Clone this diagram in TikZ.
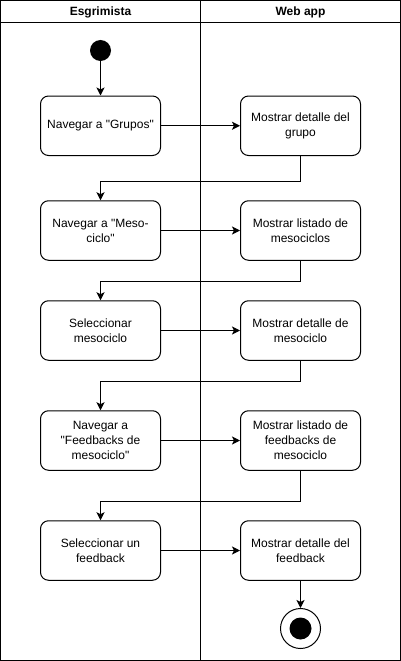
\documentclass[tikz,border=0pt]{standalone}
\usepackage{fontspec}
\setmainfont{Liberation Sans}[Ligatures=TeXOff]
\usetikzlibrary{arrows.meta,positioning}
\newcommand{\qq}{\char34\relax}
\tikzset{
  act/.style={draw, line width=1pt, rounded corners=8pt, minimum width=120pt, minimum height=59.5pt, align=center, font=\fontsize{12}{15}\selectfont, inner sep=2pt},
  arr/.style={line width=1pt, -{Stealth[length=8pt,width=8pt,inset=2pt]}},
  lane/.style={line width=1pt},
  hdr/.style={font=\bfseries\fontsize{12}{15}\selectfont}
}
\begin{document}
\begin{tikzpicture}[x=1pt,y=-1pt]
\useasboundingbox (0,0) rectangle (401,661);
% lanes
\draw[lane] (0.5,0.5) rectangle (400.5,660.5);
\draw[lane] (0.5,23) -- (400.5,23);
\draw[lane] (200.5,0.5) -- (200.5,660.5);
\node[hdr] (h1) at (100.5,12) {Esgrimista};
\node[hdr] (h2) at (300.5,12) {Web app};
% start
\node[circle, fill=black, minimum size=21pt, inner sep=0pt] (start) at (100.5,50.5) {};
% activities
\node[act] (l1) at (100.5,125.75) {Navegar a \qq Grupos\qq};
\node[act] (r1) at (300.5,125.75) {Mostrar detalle del\\grupo};
\node[act] (l2) at (100.5,230.5) {Navegar a \qq Meso-\\ciclo\qq};
\node[act] (r2) at (300.5,230.5) {Mostrar listado de\\mesociclos};
\node[act] (l3) at (100.5,330.5) {Seleccionar\\mesociclo};
\node[act] (r3) at (300.5,330.5) {Mostrar detalle de\\mesociclo};
\node[act] (l4) at (100.5,440.5) {Navegar a\\\qq Feedbacks de\\mesociclo\qq};
\node[act] (r4) at (300.5,440.5) {Mostrar listado de\\feedbacks de\\mesociclo};
\node[act] (l5) at (100.5,550.5) {Seleccionar un\\feedback};
\node[act] (r5) at (300.5,550.5) {Mostrar detalle del\\feedback};
% end
\node[circle, draw, line width=1pt, minimum size=40pt, inner sep=0pt] (end) at (300.5,628.5) {};
\node[circle, fill=black, minimum size=22pt, inner sep=0pt] (endin) at (end.center) {};
% connectors
\draw[arr] (start) -- (l1.north);
\draw[arr] (l1) -- (r1);
\draw[arr] (r1.south) -- ++(0,25) -| (l2.north);
\draw[arr] (l2) -- (r2);
\draw[arr] (r2.south) -- ++(0,20.5) -| (l3.north);
\draw[arr] (l3) -- (r3);
\draw[arr] (r3.south) -- ++(0,20.5) -| (l4.north);
\draw[arr] (l4) -- (r4);
\draw[arr] (r4.south) -- ++(0,30.5) -| (l5.north);
\draw[arr] (l5) -- (r5);
\draw[arr] (r5.south) -- (end.north);
\end{tikzpicture}
\end{document}
